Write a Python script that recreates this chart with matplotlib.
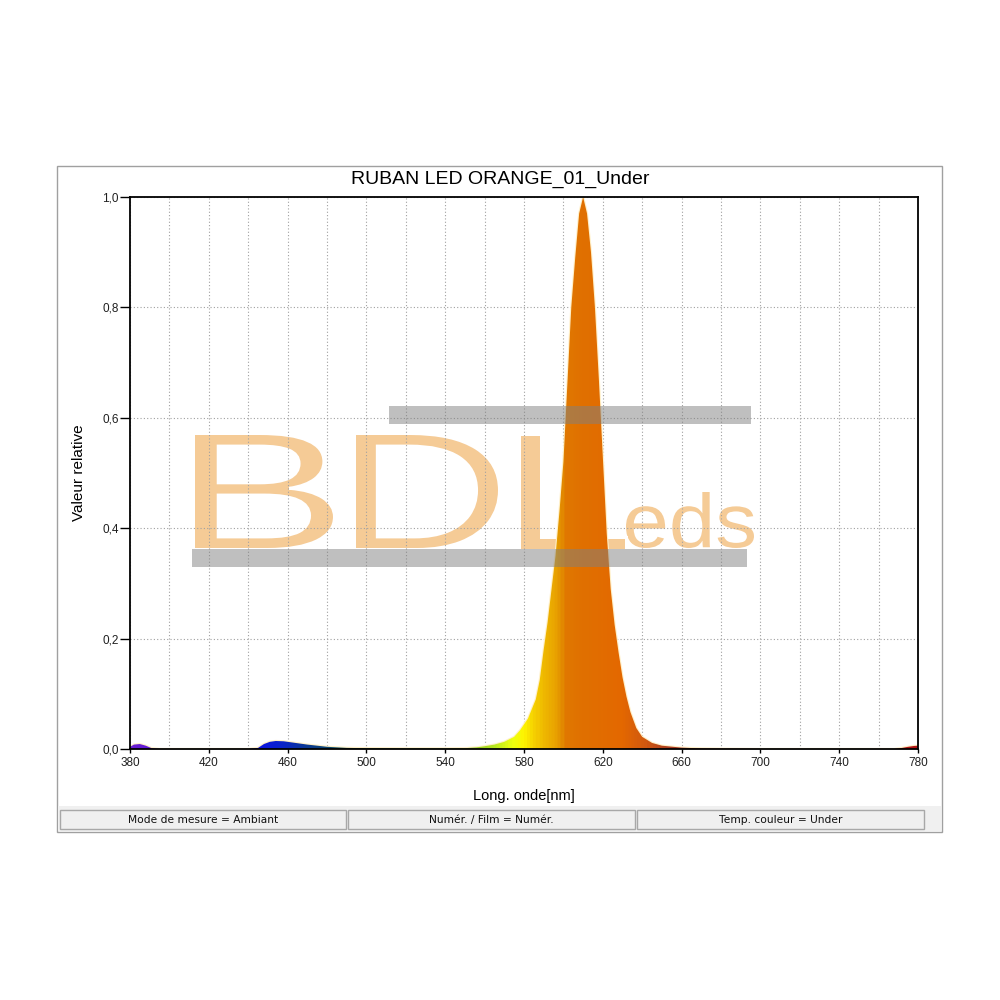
import numpy as np
import matplotlib
matplotlib.use("Agg")
import matplotlib.pyplot as plt
from matplotlib.colors import LinearSegmentedColormap
from matplotlib.patches import Rectangle, PathPatch
from matplotlib.textpath import TextPath
from matplotlib.font_manager import FontProperties
from matplotlib.transforms import Affine2D
from matplotlib.ticker import MultipleLocator, FixedLocator, FuncFormatter

# spectrum (nm, relative value)
wl = [380, 382, 385, 388, 391, 395, 440, 445, 448, 451, 454, 458, 462, 466,
      470, 475, 480, 490, 500, 520, 540, 550, 556, 560, 565, 570, 575, 578,
      582, 586, 588, 590, 592, 594, 596, 598, 600, 602, 604, 606, 608, 610,
      612, 614, 616, 618, 620, 622, 624, 626, 628, 630, 632, 634, 637, 640,
      645, 650, 660, 670, 680, 700, 768, 772, 775, 778, 780]
val = [0.004, 0.008, 0.009, 0.006, 0.0015, 0, 0, 0.002, 0.009, 0.013, 0.0145,
       0.014, 0.012, 0.010, 0.008, 0.006, 0.004, 0.002, 0.0015, 0.001, 0.001,
       0.0015, 0.003, 0.005, 0.008, 0.013, 0.022, 0.034, 0.055, 0.09, 0.125,
       0.18, 0.23, 0.29, 0.35, 0.43, 0.52, 0.66, 0.80, 0.89, 0.97, 1.0, 0.97,
       0.90, 0.80, 0.67, 0.53, 0.39, 0.29, 0.225, 0.175, 0.13, 0.095, 0.067,
       0.038, 0.022, 0.011, 0.006, 0.0025, 0.001, 0.0005, 0, 0, 0.002, 0.004,
       0.0055, 0.006]

# colour of the fill along the wavelength axis
col_wl = [380, 400, 440, 455, 470, 490, 510, 540, 565, 574, 580, 585, 590,
          596, 599, 601, 610, 630, 642, 655, 680, 740, 780]
col_hex = ["#6A1FD0", "#5010E0", "#1010E8", "#0A20D0", "#0A3A90", "#0F5050",
           "#1A6A30", "#60A020", "#B8E820", "#EEFF10", "#FFF400", "#F6D200",
           "#EFB800", "#E9A400", "#E39000", "#E07800", "#E07000", "#E46800",
           "#D05810", "#A83A20", "#951E18", "#A01414", "#B01515"]

title = "RUBAN LED ORANGE_01_Under"
status = ["Mode de mesure = Ambiant", "Numér. / Film = Numér.",
          "Temp. couleur = Under"]
x_ticks = [380, 420, 460, 500, 540, 580, 620, 660, 700, 740, 780]

fig = plt.figure(figsize=(10, 10), dpi=100)
W = 1000.0


def fx(x):
    return x / W


def fy(y):
    return 1 - y / W


# outer frame
fig.patches.append(Rectangle((fx(57), fy(832)), fx(942) - fx(57), fy(166) - fy(832),
                             transform=fig.transFigure, facecolor="white",
                             edgecolor="#A0A0A0", lw=1, zorder=-3))
# status bar
fig.patches.append(Rectangle((fx(58), fy(831)), fx(941) - fx(58), fy(806) - fy(831),
                             transform=fig.transFigure, facecolor="#F0F0F0",
                             edgecolor="none", zorder=-2))
boxes = [(60, 346), (348, 635), (637, 924)]
for (x0, x1), s in zip(boxes, status):
    fig.patches.append(Rectangle((fx(x0), fy(829)), fx(x1) - fx(x0), fy(810) - fy(829),
                                 transform=fig.transFigure, facecolor="#F0F0F0",
                                 edgecolor="#A8A8A8", lw=1, zorder=-1))
    fig.text(fx((x0 + x1) / 2), fy(820), s, ha="center", va="center",
             fontsize=7.7, family="DejaVu Sans", color="#101010")

fig.text(0.5, fy(179), title, ha="center", va="center", fontsize=14,
         family="Liberation Sans")

ax = fig.add_axes([fx(130), fy(749), fx(918) - fx(130), fy(197) - fy(749)])
ax.set_xlim(380, 780)
ax.set_ylim(0, 1.0)
ax.set_axisbelow(True)

ax.xaxis.set_major_locator(FixedLocator(x_ticks))
ax.xaxis.set_minor_locator(MultipleLocator(20))
ax.yaxis.set_major_locator(MultipleLocator(0.2))
ax.yaxis.set_major_formatter(FuncFormatter(lambda v, p: f"{v:.1f}".replace(".", ",")))
ax.grid(True, which="both", axis="x", color="#A0A0A0", lw=0.8, ls=(0, (1, 2)))
ax.grid(True, which="major", axis="y", color="#A0A0A0", lw=0.8, ls=(0, (1, 2)))
ax.tick_params(axis="x", which="major", length=3, width=1, labelsize=8.5, pad=3)
ax.tick_params(axis="y", which="major", length=7, width=1, labelsize=8.5, pad=1)
ax.tick_params(axis="x", which="minor", length=0)
for lab in ax.get_xticklabels() + ax.get_yticklabels():
    lab.set_family("Liberation Sans")
    lab.set_color("#202020")
for sp in ax.spines.values():
    sp.set_linewidth(1.3)

ax.set_xlabel("Long. onde[nm]", fontsize=10.5, family="Liberation Sans", labelpad=14)
ax.set_ylabel("Valeur relative", fontsize=11, family="Liberation Sans", labelpad=12)

# watermark letters (behind the spectrum)
wm_color = "#F5CB96"


def put_word(s, x0, x1, ytop, ybot, thin=0.0):
    # thin > 0: pixels eaten off every edge by a white outline
    tp = TextPath((0, 0), s, size=100, prop=FontProperties(family="Liberation Sans"))
    bb = tp.get_extents()
    x0, x1, ytop, ybot = x0 - thin, x1 + thin, ytop - thin, ybot + thin
    sx = (x1 - x0) / bb.width
    sy = (ybot - ytop) / bb.height
    tr = (Affine2D().translate(-bb.x0, -bb.y0).scale(sx / W, sy / W)
          .translate(fx(x0), fy(ybot)))
    ax.add_patch(PathPatch(tp, transform=tr + fig.transFigure, facecolor=wm_color,
                           edgecolor="white" if thin else "none",
                           lw=thin * 2 * 0.72, zorder=0.3))


put_word("eds", 626, 754, 492, 548)
put_word("B", 195, 333, 435, 548, thin=1.5)
put_word("D", 356, 498, 435, 548, thin=1.5)
put_word("L", 520, 624, 435, 548, thin=1.5)

# spectrum with colour gradient
cmap = LinearSegmentedColormap.from_list(
    "spec", [((w - 380) / 400, c) for w, c in zip(col_wl, col_hex)])
ax.plot(wl, val, color="#FFF0C8", lw=1.6, zorder=1.5)
poly = ax.fill_between(wl, val, 0, color="none", lw=0, zorder=1.6)
clip = PathPatch(poly.get_paths()[0], transform=ax.transData, facecolor="none",
                 edgecolor="none")
ax.add_patch(clip)
grad = np.linspace(0, 1, 800).reshape(1, -1)
im = ax.imshow(grad, cmap=cmap, extent=[380, 780, 0, 1], aspect="auto",
               origin="lower", zorder=2, interpolation="bilinear")
im.set_clip_path(clip)

# grey bars of the watermark (on top)
for x0, x1, y0, y1 in [(389, 751, 406, 424), (192, 747, 549, 567)]:
    ax.add_patch(Rectangle((fx(x0), fy(y1)), fx(x1) - fx(x0), fy(y0) - fy(y1),
                           transform=fig.transFigure, facecolor="#808080",
                           alpha=0.5, edgecolor="none", zorder=3))

fig.savefig("out.png", dpi=100)
